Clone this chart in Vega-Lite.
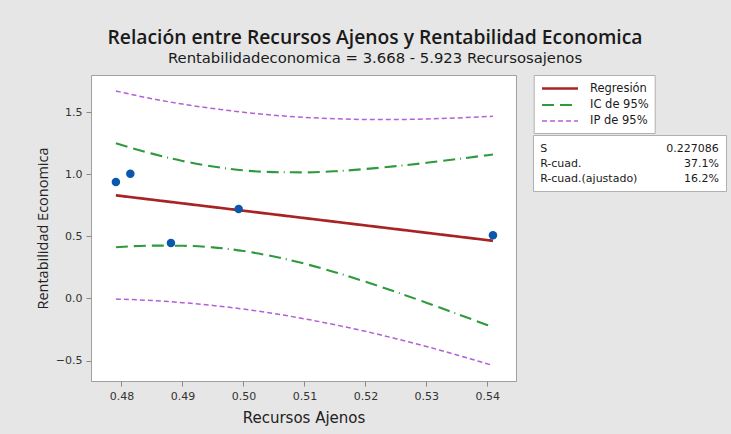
{
  "$schema": "https://vega.github.io/schema/vega-lite/v6.json",
  "background": "#e6e6e6",
  "padding": {"left": 34, "top": 29, "right": 4, "bottom": 8},
  "datasets": {
    "ajuste": [
      {"x": 0.47908, "serie": "Regresión", "lado": "centro", "y": 0.830},
      {"x": 0.54092, "serie": "Regresión", "lado": "centro", "y": 0.464},
      {"x": 0.47908, "serie": "IC de 95%", "lado": "sup", "y": 1.249},
      {"x": 0.485, "serie": "IC de 95%", "lado": "sup", "y": 1.166},
      {"x": 0.490, "serie": "IC de 95%", "lado": "sup", "y": 1.107},
      {"x": 0.495, "serie": "IC de 95%", "lado": "sup", "y": 1.062},
      {"x": 0.500, "serie": "IC de 95%", "lado": "sup", "y": 1.031},
      {"x": 0.505, "serie": "IC de 95%", "lado": "sup", "y": 1.017},
      {"x": 0.510, "serie": "IC de 95%", "lado": "sup", "y": 1.015},
      {"x": 0.515, "serie": "IC de 95%", "lado": "sup", "y": 1.024},
      {"x": 0.520, "serie": "IC de 95%", "lado": "sup", "y": 1.042},
      {"x": 0.525, "serie": "IC de 95%", "lado": "sup", "y": 1.065},
      {"x": 0.530, "serie": "IC de 95%", "lado": "sup", "y": 1.092},
      {"x": 0.535, "serie": "IC de 95%", "lado": "sup", "y": 1.122},
      {"x": 0.54092, "serie": "IC de 95%", "lado": "sup", "y": 1.159},
      {"x": 0.47908, "serie": "IC de 95%", "lado": "inf", "y": 0.412},
      {"x": 0.485, "serie": "IC de 95%", "lado": "inf", "y": 0.425},
      {"x": 0.490, "serie": "IC de 95%", "lado": "inf", "y": 0.424},
      {"x": 0.495, "serie": "IC de 95%", "lado": "inf", "y": 0.411},
      {"x": 0.500, "serie": "IC de 95%", "lado": "inf", "y": 0.382},
      {"x": 0.505, "serie": "IC de 95%", "lado": "inf", "y": 0.337},
      {"x": 0.510, "serie": "IC de 95%", "lado": "inf", "y": 0.280},
      {"x": 0.515, "serie": "IC de 95%", "lado": "inf", "y": 0.211},
      {"x": 0.520, "serie": "IC de 95%", "lado": "inf", "y": 0.135},
      {"x": 0.525, "serie": "IC de 95%", "lado": "inf", "y": 0.052},
      {"x": 0.530, "serie": "IC de 95%", "lado": "inf", "y": -0.034},
      {"x": 0.535, "serie": "IC de 95%", "lado": "inf", "y": -0.124},
      {"x": 0.54092, "serie": "IC de 95%", "lado": "inf", "y": -0.231},
      {"x": 0.47908, "serie": "IP de 95%", "lado": "sup", "y": 1.670},
      {"x": 0.485, "serie": "IP de 95%", "lado": "sup", "y": 1.608},
      {"x": 0.490, "serie": "IP de 95%", "lado": "sup", "y": 1.565},
      {"x": 0.495, "serie": "IP de 95%", "lado": "sup", "y": 1.529},
      {"x": 0.500, "serie": "IP de 95%", "lado": "sup", "y": 1.499},
      {"x": 0.505, "serie": "IP de 95%", "lado": "sup", "y": 1.475},
      {"x": 0.510, "serie": "IP de 95%", "lado": "sup", "y": 1.458},
      {"x": 0.515, "serie": "IP de 95%", "lado": "sup", "y": 1.447},
      {"x": 0.520, "serie": "IP de 95%", "lado": "sup", "y": 1.441},
      {"x": 0.525, "serie": "IP de 95%", "lado": "sup", "y": 1.441},
      {"x": 0.530, "serie": "IP de 95%", "lado": "sup", "y": 1.445},
      {"x": 0.535, "serie": "IP de 95%", "lado": "sup", "y": 1.453},
      {"x": 0.54092, "serie": "IP de 95%", "lado": "sup", "y": 1.467},
      {"x": 0.47908, "serie": "IP de 95%", "lado": "inf", "y": -0.005},
      {"x": 0.485, "serie": "IP de 95%", "lado": "inf", "y": -0.017},
      {"x": 0.490, "serie": "IP de 95%", "lado": "inf", "y": -0.034},
      {"x": 0.495, "serie": "IP de 95%", "lado": "inf", "y": -0.057},
      {"x": 0.500, "serie": "IP de 95%", "lado": "inf", "y": -0.086},
      {"x": 0.505, "serie": "IP de 95%", "lado": "inf", "y": -0.122},
      {"x": 0.510, "serie": "IP de 95%", "lado": "inf", "y": -0.164},
      {"x": 0.515, "serie": "IP de 95%", "lado": "inf", "y": -0.212},
      {"x": 0.520, "serie": "IP de 95%", "lado": "inf", "y": -0.265},
      {"x": 0.525, "serie": "IP de 95%", "lado": "inf", "y": -0.324},
      {"x": 0.530, "serie": "IP de 95%", "lado": "inf", "y": -0.387},
      {"x": 0.535, "serie": "IP de 95%", "lado": "inf", "y": -0.455},
      {"x": 0.54092, "serie": "IP de 95%", "lado": "inf", "y": -0.540}
    ],
    "obs": [
      {"x": 0.47908, "y": 0.938},
      {"x": 0.48145, "y": 1.003},
      {"x": 0.48811, "y": 0.446},
      {"x": 0.49921, "y": 0.720},
      {"x": 0.54092, "y": 0.508}
    ],
    "resumen": [
      {"fila": "S", "valor": "0.227086"},
      {"fila": "R-cuad.", "valor": "37.1%"},
      {"fila": "R-cuad.(ajustado)", "valor": "16.2%"}
    ]
  },
  "title": {
    "text": "Relación entre Recursos Ajenos y Rentabilidad Economica",
    "subtitle": "Rentabilidadeconomica = 3.668 - 5.923 Recursosajenos",
    "anchor": "middle",
    "frame": "group",
    "dx": 284,
    "offset": 9,
    "font": "Open Sans",
    "fontSize": 19.3,
    "fontWeight": 600,
    "color": "#1a1a1a",
    "subtitleFont": "DejaVu Sans",
    "subtitleFontSize": 14.8,
    "subtitleColor": "#1a1a1a",
    "subtitlePadding": 2
  },
  "bounds": "flush",
  "spacing": 17,
  "hconcat": [
    {
      "width": 425,
      "height": 306,
      "layer": [
        {
          "data": {"name": "ajuste"},
          "mark": {"type": "line", "interpolate": "monotone"},
          "encoding": {
            "x": {
              "field": "x",
              "type": "quantitative",
              "scale": {"domain": [0.4750, 0.5447], "nice": false, "zero": false},
              "axis": {"values": [0.48, 0.49, 0.5, 0.51, 0.52, 0.53, 0.54], "format": ".2f", "title": "Recursos Ajenos", "labelPadding": 4, "titlePadding": 9}
            },
            "y": {
              "field": "y",
              "type": "quantitative",
              "scale": {"domain": [-0.665, 1.799], "nice": false, "zero": false},
              "axis": {"values": [-0.5, 0, 0.5, 1, 1.5], "format": ".1f", "title": "Rentabilidad Economica", "titleFont": "Open Sans", "titleFontSize": 14.5, "labelPadding": 4, "titlePadding": 5}
            },
            "color": {
              "field": "serie",
              "type": "nominal",
              "scale": {"domain": ["Regresión", "IC de 95%", "IP de 95%"], "range": ["#a82424", "#2e9a3e", "#b45fd8"]},
              "legend": {
                "title": null,
                "orient": "none",
                "legendX": 442.7,
                "legendY": 0,
                "symbolType": "M-3,0H3",
                "symbolSize": 144,
                "symbolOffset": 12.8,
                "symbolFillColor": "transparent",
                "labelOffset": 22.5,
                "labelFont": "DejaVu Sans",
                "labelFontSize": 11.5,
                "labelColor": "#1a1a1a",
                "strokeColor": "#b0b0b0",
                "fillColor": "#ffffff",
                "padding": 6,
                "rowPadding": 3.5
              }
            },
            "strokeDash": {
              "field": "serie",
              "type": "nominal",
              "scale": {"domain": ["Regresión", "IC de 95%", "IP de 95%"], "range": [[1, 0], [12, 6, 12, 6, 12, 5, 1, 5], [5, 3]]}
            },
            "strokeWidth": {
              "field": "serie",
              "type": "nominal",
              "scale": {"domain": ["Regresión", "IC de 95%", "IP de 95%"], "range": [2.7, 1.5, 1.6]}
            },
            "detail": {"field": "lado", "type": "nominal"}
          }
        },
        {
          "data": {"name": "obs"},
          "mark": {"type": "circle", "size": 72, "color": "#0a58ad", "opacity": 1},
          "encoding": {
            "x": {"field": "x", "type": "quantitative"},
            "y": {"field": "y", "type": "quantitative"}
          }
        }
      ]
    },
    {
      "spacing": 2,
      "vconcat": [
        {
          "width": 193,
          "height": 57,
          "view": {"stroke": null, "fill": null},
          "data": {"values": [{"t": ""}]},
          "mark": {"type": "text"},
          "encoding": {"text": {"field": "t"}}
        },
        {
          "width": 193,
          "height": 56,
          "view": {"stroke": "#b0b0b0", "fill": "#ffffff"},
          "data": {"name": "resumen"},
          "encoding": {
            "y": {
              "field": "fila",
              "type": "nominal",
              "sort": null,
              "scale": {"type": "point", "padding": 0.85},
              "axis": null
            }
          },
          "layer": [
            {
              "mark": {"type": "text", "align": "left", "font": "DejaVu Sans", "fontSize": 11, "color": "#1a1a1a", "dy": 1},
              "encoding": {
                "x": {"datum": "nombre", "type": "nominal", "scale": {"type": "point", "domain": ["nombre", "valor"], "padding": 0.04}, "axis": null},
                "text": {"field": "fila"}
              }
            },
            {
              "mark": {"type": "text", "align": "right", "font": "DejaVu Sans", "fontSize": 11, "color": "#1a1a1a", "dy": 1},
              "encoding": {
                "x": {"datum": "valor", "type": "nominal"},
                "text": {"field": "valor"}
              }
            }
          ]
        }
      ]
    }
  ],
  "config": {
    "font": "DejaVu Sans",
    "view": {"stroke": "#a0a0a0", "fill": "#ffffff"},
    "axis": {
      "domain": false,
      "grid": false,
      "tickColor": "#8a8a8a",
      "tickSize": 5,
      "labelFont": "DejaVu Sans",
      "labelFontSize": 11,
      "labelColor": "#333333",
      "titleFont": "DejaVu Sans",
      "titleFontSize": 15,
      "titleFontWeight": "normal",
      "titleColor": "#222222"
    }
  }
}
